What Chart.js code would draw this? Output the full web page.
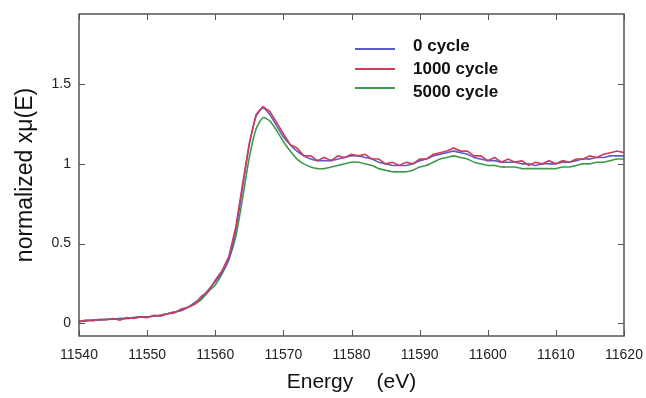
<!DOCTYPE html>
<html>
<head>
<meta charset="utf-8">
<script src="https://cdn.jsdelivr.net/npm/chart.js@4"></script>
<style>
  html, body { margin: 0; padding: 0; background: #fff; }
  canvas { display: block; }
</style>
</head>
<body>
<canvas id="xanesChart" width="646" height="398"></canvas>
<script>
// Dados (energia em eV, 1 eV por ponto)
const energy = [
  11540, 11541, 11542, 11543, 11544, 11545, 11546, 11547, 11548, 11549,
  11550, 11551, 11552, 11553, 11554, 11555, 11556, 11557, 11558, 11559,
  11560, 11561, 11562, 11563, 11564, 11565, 11566, 11567, 11568, 11569,
  11570, 11571, 11572, 11573, 11574, 11575, 11576, 11577, 11578, 11579,
  11580, 11581, 11582, 11583, 11584, 11585, 11586, 11587, 11588, 11589,
  11590, 11591, 11592, 11593, 11594, 11595, 11596, 11597, 11598, 11599,
  11600, 11601, 11602, 11603, 11604, 11605, 11606, 11607, 11608, 11609,
  11610, 11611, 11612, 11613, 11614, 11615, 11616, 11617, 11618, 11619,
  11620
];

const cycle0 = [
  0.01, 0.015, 0.02, 0.02, 0.025, 0.025, 0.03, 0.03, 0.035, 0.04,
  0.04, 0.045, 0.05, 0.06, 0.07, 0.08, 0.10, 0.13, 0.16, 0.21,
  0.26, 0.32, 0.40, 0.58, 0.85, 1.12, 1.30, 1.35, 1.31, 1.24,
  1.17, 1.12, 1.08, 1.05, 1.03, 1.02, 1.02, 1.02, 1.03, 1.04,
  1.05, 1.05, 1.04, 1.03, 1.01, 1.00, 0.99, 0.99, 0.99, 1.00,
  1.02, 1.03, 1.05, 1.06, 1.07, 1.08, 1.07, 1.06, 1.04, 1.03,
  1.02, 1.02, 1.01, 1.01, 1.01, 1.00, 1.00, 0.99, 1.00, 1.00,
  1.00, 1.01, 1.01, 1.02, 1.03, 1.03, 1.04, 1.04, 1.05, 1.05,
  1.05
];

const cycle1000 = [
  0.01, 0.02, 0.015, 0.025, 0.02, 0.03, 0.02, 0.035, 0.03, 0.04,
  0.035, 0.05, 0.045, 0.06, 0.065, 0.09, 0.10, 0.12, 0.17, 0.20,
  0.27, 0.33, 0.42, 0.60, 0.87, 1.13, 1.31, 1.36, 1.33, 1.26,
  1.19, 1.12, 1.10, 1.05, 1.05, 1.02, 1.04, 1.02, 1.05, 1.04,
  1.06, 1.05, 1.06, 1.03, 1.03, 1.00, 1.01, 0.99, 1.01, 1.00,
  1.03, 1.03, 1.06, 1.07, 1.08, 1.10, 1.08, 1.08, 1.05, 1.05,
  1.02, 1.04, 1.01, 1.03, 1.01, 1.02, 0.99, 1.01, 1.00, 1.02,
  1.00, 1.02, 1.01, 1.03, 1.03, 1.05, 1.04, 1.06, 1.07, 1.08,
  1.07
];

const cycle5000 = [
  0.01, 0.015, 0.02, 0.02, 0.025, 0.025, 0.03, 0.03, 0.035, 0.04,
  0.04, 0.045, 0.05, 0.06, 0.07, 0.08, 0.10, 0.12, 0.15, 0.20,
  0.24, 0.31, 0.40, 0.54, 0.78, 1.04, 1.22, 1.29, 1.27, 1.21,
  1.14, 1.08, 1.03, 1.00, 0.98, 0.97, 0.97, 0.98, 0.99, 1.00,
  1.01, 1.01, 1.00, 0.99, 0.97, 0.96, 0.95, 0.95, 0.95, 0.96,
  0.98, 0.99, 1.01, 1.03, 1.04, 1.05, 1.04, 1.03, 1.01, 1.00,
  0.99, 0.99, 0.98, 0.98, 0.98, 0.97, 0.97, 0.97, 0.97, 0.97,
  0.97, 0.98, 0.98, 0.99, 1.00, 1.00, 1.01, 1.01, 1.02, 1.03,
  1.03
];

const seriesLabels = ["0 cycle", "1000 cycle", "5000 cycle"];
const xTicks = [11540, 11550, 11560, 11570, 11580, 11590, 11600, 11610, 11620];
const yTicks = [0, 0.5, 1, 1.5];

const cores = ["#5b5bc8", "#cc3d5a", "#3f9a4f"];

const pontos = (vals) => vals.map((v, i) => ({ x: energy[i], y: v }));

// Moldura, ticks internos e legenda dentro do gráfico
const moldura = {
  id: "moldura",
  afterDraw(chart) {
    const { ctx, chartArea: a, scales: { x, y } } = chart;
    ctx.save();
    ctx.strokeStyle = "#555";
    ctx.lineWidth = 1.5;
    ctx.strokeRect(a.left, a.top, a.width, a.height);

    ctx.lineWidth = 1;
    const tick = 6;
    ctx.beginPath();
    x.ticks.forEach((t) => {
      const px = Math.round(x.getPixelForValue(t.value)) + 0.5;
      ctx.moveTo(px, a.bottom); ctx.lineTo(px, a.bottom - tick);
      ctx.moveTo(px, a.top); ctx.lineTo(px, a.top + tick);
    });
    y.ticks.forEach((t) => {
      const py = Math.round(y.getPixelForValue(t.value)) + 0.5;
      ctx.moveTo(a.left, py); ctx.lineTo(a.left + tick, py);
      ctx.moveTo(a.right, py); ctx.lineTo(a.right - tick, py);
    });
    ctx.stroke();

    // legenda
    const linhaY = [49, 69, 88];
    const textoY = [46, 69, 92];
    ctx.font = "bold 17px 'Liberation Sans', Arial, sans-serif";
    ctx.textBaseline = "middle";
    ctx.fillStyle = "#111";
    chart.data.datasets.forEach((ds, i) => {
      ctx.strokeStyle = ds.borderColor;
      ctx.lineWidth = 2;
      ctx.beginPath();
      ctx.moveTo(355, linhaY[i]);
      ctx.lineTo(395, linhaY[i]);
      ctx.stroke();
      ctx.fillText(ds.label, 413, textoY[i]);
    });
    ctx.restore();
  },
};

const ctx = document.getElementById("xanesChart").getContext("2d");

const xanesChart = new Chart(ctx, {
  type: "line",
  data: {
    datasets: [
      { label: seriesLabels[0], data: pontos(cycle0), borderColor: cores[0], order: 1, tension: 0.2 },
      { label: seriesLabels[1], data: pontos(cycle1000), borderColor: cores[1], order: 0, tension: 0 },
      { label: seriesLabels[2], data: pontos(cycle5000), borderColor: cores[2], order: 2, tension: 0.2 },
    ].map((d) => ({ ...d, borderWidth: 1.6, pointRadius: 0, fill: false })),
  },
  options: {
    responsive: false,
    animation: false,
    devicePixelRatio: 1,
    layout: { padding: { top: 14, right: 22, left: 0, bottom: 0 } },
    plugins: {
      legend: { display: false },
      tooltip: { enabled: false },
    },
    scales: {
      x: {
        type: "linear",
        min: 11540,
        max: 11620,
        afterBuildTicks: (s) => { s.ticks = xTicks.map((v) => ({ value: v })); },
        afterFit: (s) => { s.height = 62; s.paddingLeft = 0; s.paddingRight = 0; },
        ticks: {
          color: "#222",
          font: { family: "'Liberation Sans', Arial", size: 14 },
          padding: 11,
          maxRotation: 0,
          callback: (v) => String(v),
        },
        grid: { display: false, drawTicks: false },
        border: { display: false },
        title: {
          display: true,
          text: "Energy    (eV)",
          color: "#111",
          font: { family: "'Liberation Sans', Arial", size: 21 },
          padding: { top: 6, bottom: 3 },
        },
      },
      y: {
        min: -0.08,
        max: 1.94,
        afterBuildTicks: (s) => { s.ticks = yTicks.map((v) => ({ value: v })); },
        afterFit: (s) => { s.width = 79; s.paddingTop = 0; s.paddingBottom = 0; },
        ticks: {
          color: "#222",
          font: { family: "'Liberation Sans', Arial", size: 14 },
          padding: 8,
          callback: (v) => String(v),
        },
        grid: { display: false, drawTicks: false },
        border: { display: false },
        title: {
          display: true,
          text: "normalized xμ(E)",
          color: "#111",
          font: { family: "'Liberation Sans', Arial", size: 23 },
          padding: { top: 12, bottom: 0 },
        },
      },
    },
  },
  plugins: [moldura],
});
</script>
</body>
</html>
